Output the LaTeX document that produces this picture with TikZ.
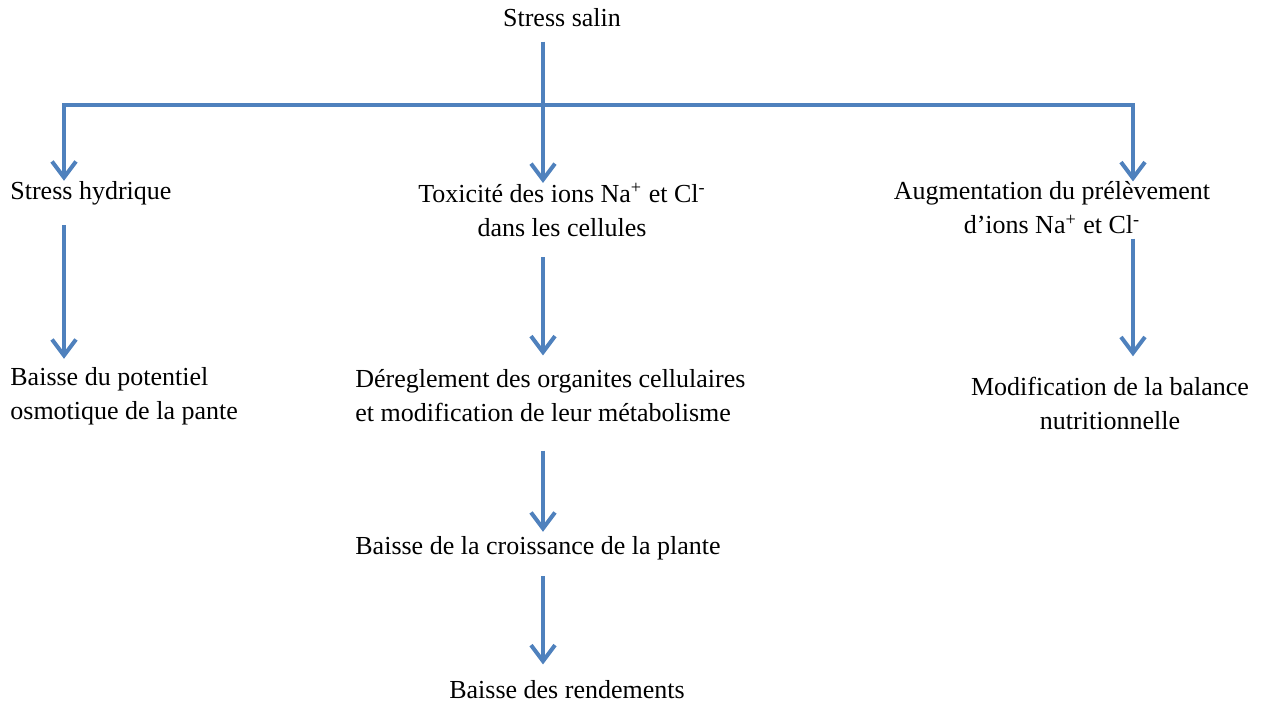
\documentclass[tikz,border=0pt]{standalone}
\usepackage{fontspec}
\setmainfont{Liberation Serif}
\usetikzlibrary{arrows.meta}
\definecolor{flowblue}{RGB}{79,129,189}

\tikzset{
  lbl/.style={inner sep=0pt, font=\fontsize{13}{17}\selectfont},
  link/.style={draw=flowblue, line width=2pt},
  flow/.style={link, -{Straight Barb[length=8pt,width=12pt]}},
}

\begin{document}
\begin{tikzpicture}[x=0.5pt,y=-0.5pt]
  \useasboundingbox (0,0) rectangle (1266,702);

  % texts
  \node[lbl] (salin) at (562,18) {Stress salin};
  \node[lbl,anchor=west] (hyd) at (10,193) {Stress hydrique};
  \node[lbl,align=center] (tox) at (562,210) {Toxicité des ions Na\textsuperscript{+} et Cl\textsuperscript{-}\\dans les cellules};
  \node[lbl,align=center] (aug) at (1052,208) {Augmentation du prélèvement\\d’ions Na\textsuperscript{+} et Cl\textsuperscript{-}};
  \node[lbl,anchor=west,align=left] (pot) at (10,396) {Baisse du potentiel\\osmotique de la pante};
  \node[lbl,anchor=west,align=left] (der) at (355,396) {Déreglement des organites cellulaires\\et modification de leur métabolisme};
  \node[lbl,align=center] (mod) at (1110,403) {Modification de la balance\\nutritionnelle};
  \node[lbl,anchor=west] (crois) at (355,548) {Baisse de la croissance de la plante};
  \node[lbl] (rend) at (567,690) {Baisse des rendements};

  % bus
  \coordinate (busL) at (64,105);
  \coordinate (busM) at (543,105);
  \coordinate (busR) at (1133,105);

  \draw[flow,shorten <=7pt] (salin.south -| busM) -- (tox.north -| busM);
  \draw[flow] (busM) -- (busL) -- (hyd.north -| busL);
  \draw[flow] (busM) -- (busR) -- (aug.north -| busR);

  % chains
  \draw[flow,shorten <=10pt,shorten >=4pt] (hyd.south -| busL) -- (pot.north -| busL);
  \draw[flow,shorten <=10pt,shorten >=7pt] (tox.south -| busM) -- (der.north -| busM);
  \draw[flow,shorten <=14pt,shorten >=2pt] (der.south -| busM) -- (crois.north -| busM);
  \draw[flow,shorten <=8pt,shorten >=8pt] (crois.south -| busM) -- (rend.north -| busM);
  \draw[flow,shorten <=2pt,shorten >=10pt] (aug.south -| busR) -- (mod.north -| busR);
\end{tikzpicture}
\end{document}
